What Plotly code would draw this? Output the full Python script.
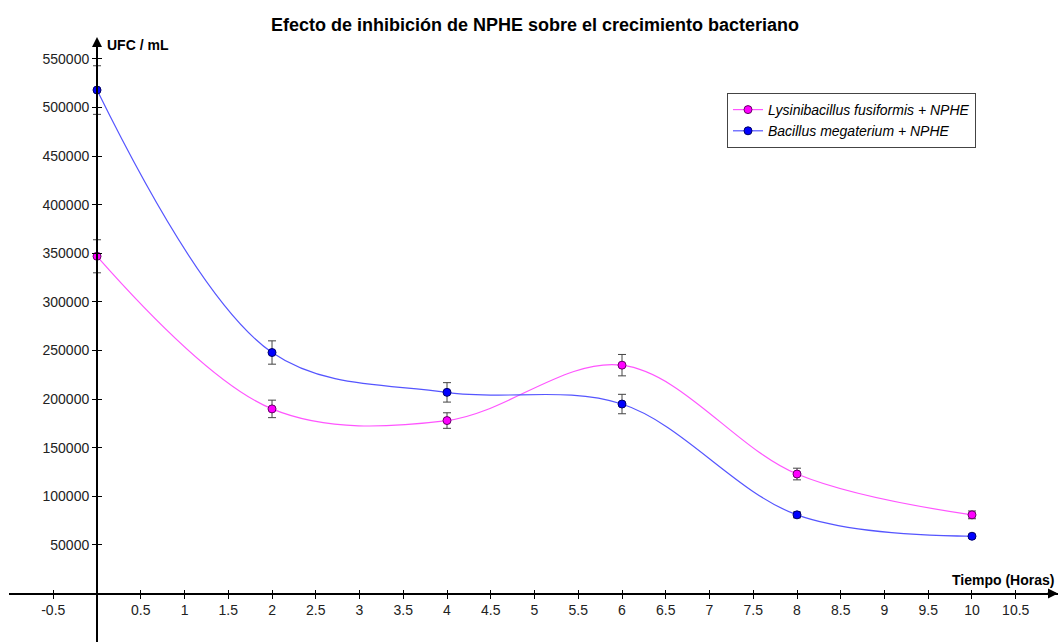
import plotly.graph_objects as go

# ---- data ----
tiempo = [0, 2, 4, 6, 8, 10]
lysini = [347000, 190000, 178000, 235000, 123000, 81000]
lysini_err = [17000, 9000, 8000, 11000, 6000, 4000]
bacillus = [518000, 248000, 207000, 195000, 81000, 59000]
bacillus_err = [25000, 12000, 10000, 10000, 3000, 2000]

x_ticks = [-0.5, 0.5, 1, 1.5, 2, 2.5, 3, 3.5, 4, 4.5, 5, 5.5, 6, 6.5, 7, 7.5, 8, 8.5, 9, 9.5, 10, 10.5]
x_labels = [str(v) if v != int(v) else str(int(v)) for v in x_ticks]
y_ticks = [-50000, 50000, 100000, 150000, 200000, 250000, 300000, 350000, 400000, 450000, 500000, 550000]
y_labels = [str(v) for v in y_ticks]

W, H = 1060, 642
x_dom = [9 / W, 1058 / W]
x_rng = [-1.006, 10.983]
y_dom = [0.0, 1 - 40 / H]
y_rng = [-49800, 569500]

x_pos_frac = x_dom[0] + (0 - x_rng[0]) / (x_rng[1] - x_rng[0]) * (x_dom[1] - x_dom[0])
y_pos_frac = y_dom[0] + (0 - y_rng[0]) / (y_rng[1] - y_rng[0]) * (y_dom[1] - y_dom[0])

PINK = "#ff00ff"
BLUE = "#0000ff"
FONT = "Liberation Sans, Arial, sans-serif"

fig = go.Figure()
fig.add_trace(go.Scatter(
    x=tiempo, y=lysini, name="Lysinibacillus fusiformis + NPHE",
    mode="lines+markers", line=dict(color="#ff55ff", width=1.2, shape="spline", smoothing=1.0),
    marker=dict(color=PINK, size=8, line=dict(color="#660066", width=1)),
    error_y=dict(type="data", array=lysini_err, color="#444444", thickness=1, width=4),
))
fig.add_trace(go.Scatter(
    x=tiempo, y=bacillus, name="Bacillus megaterium + NPHE",
    mode="lines+markers", line=dict(color="#5555ff", width=1.2, shape="spline", smoothing=1.0),
    marker=dict(color=BLUE, size=8, line=dict(color="#000066", width=1)),
    error_y=dict(type="data", array=bacillus_err, color="#444444", thickness=1, width=4),
))

tickfont = dict(family=FONT, size=14, color="#222222")
fig.update_layout(
    width=W, height=H,
    margin=dict(l=0, r=0, t=0, b=0),
    paper_bgcolor="white", plot_bgcolor="white",
    title=dict(text="<b>Efecto de inhibición de NPHE sobre el crecimiento bacteriano</b>",
               x=535 / W, xanchor="center", y=1 - 25 / H, yanchor="middle",
               font=dict(family=FONT, size=18, color="black")),
    xaxis=dict(domain=x_dom, range=x_rng, anchor="free", position=y_pos_frac,
               showline=True, linecolor="black", linewidth=2, showgrid=False, zeroline=False,
               tickvals=x_ticks, ticktext=x_labels, ticks="outside", ticklen=4, tickcolor="black",
               tickfont=tickfont),
    yaxis=dict(domain=y_dom, range=y_rng, anchor="free", position=x_pos_frac,
               showline=True, linecolor="black", linewidth=2, showgrid=False, zeroline=False,
               tickvals=y_ticks, ticktext=y_labels, ticks="outside", ticklen=4, tickcolor="black",
               tickfont=tickfont),
    xaxis2=dict(domain=x_dom, range=x_rng, anchor="free", position=y_pos_frac, overlaying="x",
                showline=False, showgrid=False, zeroline=False, tickvals=x_ticks, showticklabels=False,
                ticks="inside", ticklen=4, tickcolor="black"),
    yaxis2=dict(domain=y_dom, range=y_rng, anchor="free", position=x_pos_frac, overlaying="y",
                showline=False, showgrid=False, zeroline=False, tickvals=y_ticks, showticklabels=False,
                ticks="inside", ticklen=4, tickcolor="black"),
    legend=dict(x=727 / W, xanchor="left", y=1 - 93 / H, yanchor="top",
                bordercolor="#444444", borderwidth=1, bgcolor="white",
                font=dict(family=FONT, size=14, color="black", style="italic"),
                tracegroupgap=0),
    showlegend=True,
)
# invisible trace to activate the overlay axes
fig.add_trace(go.Scatter(x=[None], y=[None], xaxis="x2", yaxis="y2", showlegend=False, hoverinfo="skip"))

fig.add_annotation(text="<b>UFC / mL</b>", xref="x", x=0, xshift=8, xanchor="left",
                   yref="paper", y=1 - 45 / H, yanchor="middle", showarrow=False,
                   font=dict(family=FONT, size=14, color="black"))
fig.add_annotation(text="<b>Tiempo (Horas)</b>", xref="paper", x=1056 / W, xanchor="right",
                   yref="paper", y=1 - 580 / H, yanchor="middle", showarrow=False,
                   font=dict(family=FONT, size=14, color="black"))
# axis arrowheads
fig.add_annotation(xref="x", x=x_rng[1], yref="y", y=0, ax=-12, ay=0, text="", showarrow=True,
                   arrowhead=2, arrowsize=1, arrowwidth=2, arrowcolor="black")
fig.add_annotation(xref="x", x=0, yref="paper", y=1 - 37 / H, ax=0, ay=12, text="", showarrow=True,
                   arrowhead=2, arrowsize=1, arrowwidth=2, arrowcolor="black")

fig.write_html("out.html", config={"displayModeBar": False},
               post_script="document.body.style.margin='0';document.body.style.padding='0';")
